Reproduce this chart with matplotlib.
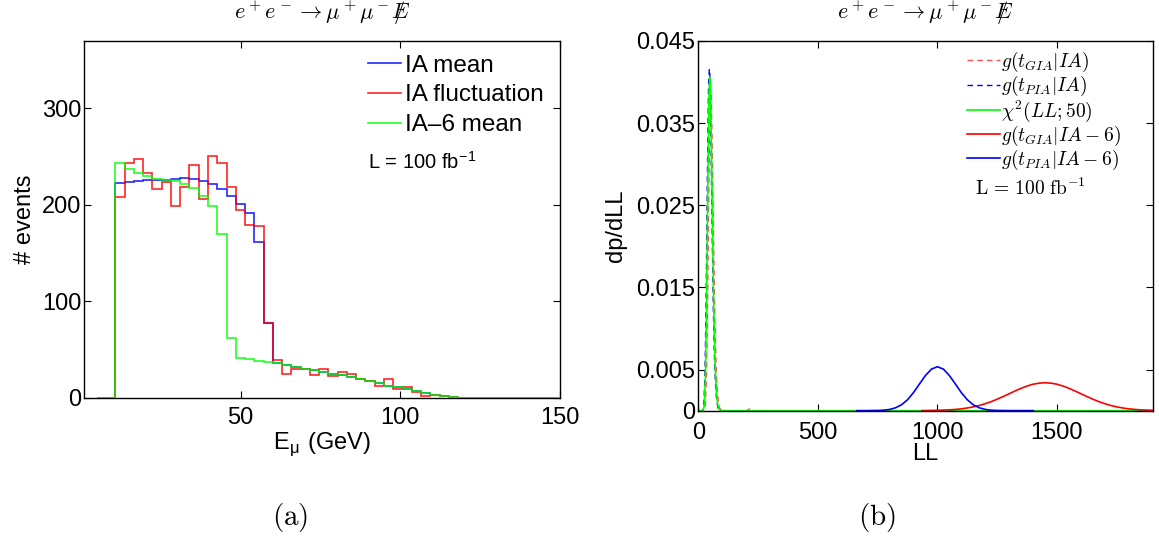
import numpy as np
import matplotlib
matplotlib.use("Agg")
import matplotlib.pyplot as plt

plt.rcParams['font.family'] = ['Liberation Sans', 'DejaVu Sans']
plt.rcParams['mathtext.fontset'] = 'cm'

# ---- panel (a): muon energy histograms ----
bin_lo = 10.8
bin_w = 2.9
ia_mean = [223, 224, 225, 226, 226, 226, 227, 228, 227, 225, 222, 216, 209, 201, 192, 161, 77,
           36, 34, 32, 30, 29, 27, 25, 23, 21, 19, 17, 15, 12, 11, 9, 7, 5, 3, 2, 1, 0]
ia_fluct = [208, 243, 248, 233, 216, 224, 199, 218, 241, 206, 251, 243, 219, 195, 179, 178, 77,
            39, 24, 30, 30, 23, 30, 22, 27, 24, 19, 17, 12, 19, 9, 11, 6, 2, 3, 2, 1, 0]
ia6_mean = [243, 237, 233, 230, 227, 226, 225, 222, 217, 209, 199, 170, 62,
            41, 40, 38, 37, 36, 34, 32, 30, 29, 27, 25, 23, 21, 19, 17, 15, 12, 11, 9, 7, 5, 3, 2, 1, 0]

# ---- panel (b): LL distributions ----
ll_gia = [0, 19, 24, 29, 34, 39, 44, 49, 52, 54, 59, 64, 69, 74, 79, 84, 89, 94, 104, 200, 210, 216, 222, 232, 300]
p_gia = [0, 0, 0.00004, 0.0006, 0.004, 0.0133, 0.027, 0.0375, 0.039, 0.0385, 0.031, 0.0206, 0.0115,
         0.0057, 0.0025, 0.001, 0.0003, 0.0001, 0, 0, 0.0001, 0.0003, 0.0001, 0, 0]
ll_pia = [0, 13, 18, 23, 28, 33, 38, 43, 46, 48, 53, 58, 63, 68, 73, 78, 83, 88, 98, 300]
p_pia = [0, 0, 0.00004, 0.0006, 0.0043, 0.0142, 0.0287, 0.0398, 0.0416, 0.0412, 0.033, 0.0218,
         0.0122, 0.006, 0.0026, 0.001, 0.0003, 0.0001, 0, 0]
ll_chi = [0, 15, 20, 25, 30, 35, 40, 45, 48, 50, 55, 60, 65, 70, 75, 80, 85, 90, 100, 110, 1900]
p_chi = [0, 0, 0.00004, 0.0006, 0.0042, 0.0138, 0.0279, 0.0387, 0.0406, 0.0400, 0.0322, 0.0213,
         0.0119, 0.0058, 0.0025, 0.001, 0.0003, 0.0001, 0, 0, 0]
ll_gia6 = [935, 950, 1000, 1050, 1075, 1100, 1125, 1150, 1175, 1200, 1225, 1250, 1275, 1300, 1325,
           1350, 1375, 1400, 1425, 1450, 1475, 1500, 1525, 1550, 1575, 1600, 1625, 1650, 1675,
           1700, 1725, 1750, 1775, 1800, 1825, 1850, 1900]
p_gia6 = [0, 0.00001, 0.00004, 0.0001, 0.00015, 0.00022, 0.00033, 0.00046, 0.00063, 0.00085, 0.0011,
          0.0014, 0.00172, 0.00206, 0.0024, 0.00272, 0.003, 0.00322, 0.00335, 0.0034, 0.00335,
          0.00322, 0.003, 0.00272, 0.0024, 0.00206, 0.00172, 0.0014, 0.0011, 0.00085, 0.00063,
          0.00046, 0.00033, 0.00022, 0.00015, 0.0001, 0.00004]
ll_pia6 = [663, 700, 750, 775, 800, 825, 850, 875, 900, 925, 950, 975, 1000, 1025, 1050, 1075, 1100,
           1125, 1150, 1175, 1200, 1225, 1250, 1300, 1401]
p_pia6 = [0, 0, 0.00002, 0.00006, 0.00015, 0.00035, 0.00072, 0.00133, 0.0022, 0.00325, 0.00428,
          0.00506, 0.00535, 0.00506, 0.00428, 0.00325, 0.0022, 0.00133, 0.00072, 0.00035, 0.00015,
          0.00006, 0.00002, 0, 0]

title = r'$e^+e^- \rightarrow \mu^+\mu^- /\!\!\!\!E$'

fig = plt.figure(figsize=(11.59, 5.41), dpi=100)
ax1 = fig.add_axes([0.0725, 0.265, 0.4107, 0.6593])
ax2 = fig.add_axes([0.6025, 0.2409, 0.392, 0.6834])

n = len(ia_mean)
edges = np.concatenate([[5.0], bin_lo + bin_w * np.arange(n + 1), [150.0]])
lw = 1.2
ax1.stairs([0] + ia_mean + [0], edges, color=(0, 0, 1), lw=lw, alpha=0.85, label='IA mean', zorder=2)
ax1.stairs([0] + ia_fluct + [0], edges, color=(1, 0, 0), lw=lw, alpha=0.85, label='IA fluctuation', zorder=3)
ax1.stairs([0] + ia6_mean + [0], edges, color=(0, 1, 0), lw=lw, alpha=0.85, label='IA\u20136 mean', zorder=4)
ax1.set_xlim(1, 150)
ax1.set_ylim(0, 370)
ax1.set_xticks([50, 100, 150])
ax1.set_yticks([0, 100, 200, 300])
ax1.set_xlabel(r'E$_{\mathregular{\mu}}$ (GeV)', fontsize=17, labelpad=1)
ax1.set_ylabel('# events', fontsize=17, labelpad=4)
ax1.set_title(title, fontsize=16, pad=16)
ax1.legend(loc='upper left', bbox_to_anchor=(0.597, 0.962), frameon=False, fontsize=17.5,
           handlelength=1.35, handletextpad=0.15, labelspacing=0.32, borderpad=0, borderaxespad=0)
ax1.text(0.597, 0.66, r'L = 100 fb$^{\mathregular{-1}}$', transform=ax1.transAxes, fontsize=14.5, va='center')

ax2.plot(ll_gia, p_gia, color=(1, 0.3, 0.3), ls='--', dashes=(4, 3), lw=1.0, label=r'$g(t_{GIA}|IA)$')
ax2.plot(ll_pia, p_pia, color=(0, 0, 1), ls='--', dashes=(4, 3), lw=1.0, label=r'$g(t_{PIA}|IA)$')
ax2.plot(ll_chi, p_chi, color=(0, 1, 0), lw=1.2, label=r'$\chi^2(LL;50)$')
ax2.plot(ll_gia6, p_gia6, color=(1, 0, 0), lw=1.2, label=r'$g(t_{GIA}|IA-6)$')
ax2.plot(ll_pia6, p_pia6, color=(0, 0, 1), lw=1.2, label=r'$g(t_{PIA}|IA-6)$')
ax2.set_xlim(0, 1900)
ax2.set_ylim(0, 0.045)
ax2.set_xticks([0, 500, 1000, 1500])
ax2.set_yticks([0, 0.005, 0.015, 0.025, 0.035, 0.045])
ax2.set_yticklabels(['0', '0.005', '0.015', '0.025', '0.035', '0.045'])
ax2.set_xlabel('LL', fontsize=17, labelpad=-1)
ax2.set_ylabel('dp/dLL', fontsize=17, labelpad=7)
ax2.set_title(title, fontsize=16, pad=16)
ax2.legend(loc='upper left', bbox_to_anchor=(0.591, 0.975), frameon=False, fontsize=14,
           handlelength=1.7, handletextpad=0.05, labelspacing=0.0, borderpad=0, borderaxespad=0)
ax2.text(0.61, 0.6, r'$\mathrm{L\,=\,100\ fb}^{-1}$', transform=ax2.transAxes, fontsize=14, va='center')

for ax in (ax1, ax2):
    ax.tick_params(direction='in', length=5, width=0.8, top=True, right=True, labelsize=17, pad=2)
    for s in ax.spines.values():
        s.set_linewidth(1.0)
ax1.tick_params(axis='x', pad=6.5)
ax2.tick_params(axis='x', pad=8.5)

fig.text(0.25, 0.043, r'$\mathrm{(a)}$', fontsize=21, ha='center', va='center')
fig.text(0.757, 0.043, r'$\mathrm{(b)}$', fontsize=21, ha='center', va='center')

fig.savefig('out.png', dpi=100)
